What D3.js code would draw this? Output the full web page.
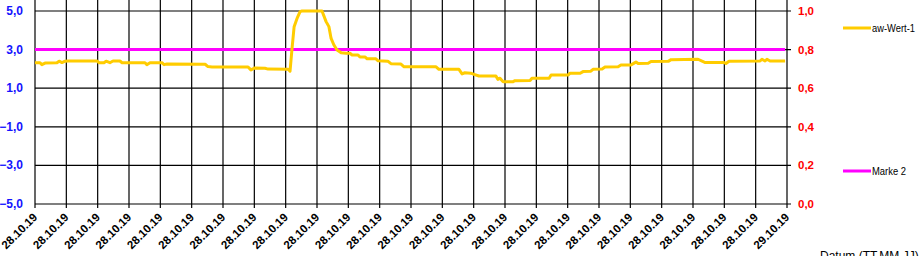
<!DOCTYPE html>
<html>
<head>
<meta charset="utf-8">
<script src="https://cdn.jsdelivr.net/npm/d3@7"></script>
<style>
  body { margin: 0; background: #fff; }
  svg { display: block; font-family: "Liberation Sans", Arial, sans-serif; }
</style>
</head>
<body>
<svg id="chart" width="924" height="256"></svg>
<script>
// hours after 28.10.19 00:00
var hours = [0.00,0.16,0.22,0.32,0.70,0.77,0.86,0.96,1.05,1.98,2.04,2.20,2.27,2.39,2.49,2.71,2.78,3.51,3.57,3.67,
  4.05,4.12,4.21,5.43,5.52,5.65,6.80,6.89,7.02,7.34,7.44,8.08,8.14,8.20,8.27,8.36,8.46,8.52,9.16,9.29,
  9.38,9.45,9.54,9.64,9.77,9.93,10.05,10.12,10.31,10.37,10.53,10.60,10.88,10.95,11.26,11.36,11.68,11.78,12.80,12.89,
  13.53,13.63,13.72,13.91,14.01,14.17,14.71,14.77,14.84,14.94,15.26,15.32,15.80,15.86,16.41,16.47,17.01,17.07,17.40,17.49,
  17.74,17.81,18.10,18.19,18.61,18.70,19.02,19.12,19.18,19.25,19.57,19.66,20.21,20.30,21.16,21.29,21.39,21.99,22.05,22.15,
  23.14,23.20,23.30,23.36,23.46,23.94];
var awWert1 = [2.32,2.32,2.22,2.30,2.32,2.40,2.33,2.40,2.41,2.41,2.32,2.32,2.40,2.32,2.41,2.41,2.32,2.32,2.22,2.32,
  2.32,2.22,2.25,2.24,2.12,2.10,2.10,1.95,2.05,2.03,1.99,1.98,1.88,3.00,4.19,4.60,4.97,5.00,5.00,4.45,
  4.19,3.58,3.24,2.98,2.84,2.81,2.81,2.72,2.72,2.62,2.62,2.52,2.52,2.42,2.40,2.27,2.25,2.11,2.11,1.98,
  1.98,1.74,1.80,1.78,1.72,1.63,1.63,1.46,1.52,1.34,1.34,1.39,1.40,1.51,1.52,1.68,1.68,1.77,1.77,1.86,
  1.88,1.98,2.00,2.10,2.11,2.20,2.20,2.30,2.36,2.28,2.29,2.38,2.39,2.48,2.50,2.40,2.33,2.33,2.28,2.40,
  2.41,2.50,2.41,2.50,2.41,2.41];
var marke2 = 3.0;
var leftTicks = [-5, -3, -1, 1, 3, 5];
var rightTicks = [0, 0.2, 0.4, 0.6, 0.8, 1.0];
var seriesNames = ["aw-Wert-1", "Marke 2"];
var seriesColors = ["#ffcc00", "#ff00ff"];
var xTitle = "Datum (TT.MM.JJ)";

var start = new Date(2019, 9, 28, 0, 0);
var end = new Date(2019, 9, 29, 0, 0);
function toDate(h) { return new Date(start.getTime() + h * 3600000); }

var svg = d3.select("#chart");
var pLeft = 35, pRight = 787, pTop = 11, pBottom = 204;

var x = d3.scaleTime().domain([start, end]).range([pLeft, pRight]);
var y = d3.scaleLinear().domain([-5, 5]).range([pBottom, pTop]);
var y2 = d3.scaleLinear().domain([0, 1]).range([pBottom, pTop]);

var de = d3.formatLocale({decimal: ",", thousands: ".", grouping: [3], currency: ["", "€"]});
var fmt = de.format(".1f");

// vertical grid
var hourTicks = x.ticks(d3.timeHour.every(1));
svg.append("g").selectAll("line")
  .data(hourTicks).enter().append("line")
  .attr("x1", function(d) { return x(d); })
  .attr("x2", function(d) { return x(d); })
  .attr("y1", -2).attr("y2", pBottom + 4)
  .attr("stroke", "#000").attr("stroke-width", 1.2);

// horizontal grid
svg.append("g").selectAll("line")
  .data(leftTicks).enter().append("line")
  .attr("x1", pLeft).attr("x2", pRight + 4)
  .attr("y1", function(d) { return y(d); })
  .attr("y2", function(d) { return y(d); })
  .attr("stroke", "#000").attr("stroke-width", 1.2);

// left axis labels
svg.append("g").selectAll("text")
  .data(leftTicks).enter().append("text")
  .attr("x", 23).attr("y", function(d) { return y(d) + 4; })
  .attr("text-anchor", "end")
  .attr("font-size", 12).attr("font-weight", "bold")
  .attr("fill", "#1414ff")
  .text(function(d) { return fmt(d); });

// right axis labels
svg.append("g").selectAll("text")
  .data(rightTicks).enter().append("text")
  .attr("x", 798).attr("y", function(d) { return y2(d) + 4; })
  .attr("font-size", 11.5).attr("font-weight", "bold")
  .attr("fill", "#ff0000")
  .text(function(d) { return fmt(d); });

// x labels
var dateFmt = d3.timeFormat("%d.%m.%y");
svg.append("g").selectAll("text")
  .data(hourTicks).enter().append("text")
  .attr("transform", function(d) { return "translate(" + (x(d) + 3) + "," + (pBottom + 14) + ") rotate(-45)"; })
  .attr("text-anchor", "end")
  .attr("font-size", 11.5).attr("font-weight", "bold")
  .attr("fill", "#000")
  .text(function(d) { return dateFmt(d); });

// series
var line = d3.line()
  .x(function(d) { return x(toDate(d[0])); })
  .y(function(d) { return y(d[1]); });

var markeData = [[hours[0], marke2], [hours[hours.length - 1], marke2]];
svg.append("path").datum(markeData)
  .attr("d", line).attr("fill", "none")
  .attr("stroke", seriesColors[1]).attr("stroke-width", 3);

svg.append("path").datum(d3.zip(hours, awWert1))
  .attr("d", line).attr("fill", "none")
  .attr("stroke", seriesColors[0]).attr("stroke-width", 3)
  .attr("stroke-linejoin", "round");

// legend
var legendY = [28, 171];
var legendW = [43, 34];
var legend = svg.append("g").selectAll("g")
  .data(seriesNames).enter().append("g")
  .attr("transform", function(d, i) { return "translate(843," + legendY[i] + ")"; });
legend.append("line")
  .attr("x1", 0).attr("x2", 28)
  .attr("stroke", function(d, i) { return seriesColors[i]; })
  .attr("stroke-width", 3);
legend.append("text")
  .attr("x", 29).attr("y", 4)
  .attr("font-size", 11).attr("fill", "#000")
  .attr("textLength", function(d, i) { return legendW[i]; })
  .attr("lengthAdjust", "spacingAndGlyphs")
  .text(function(d) { return d; });

svg.append("text")
  .attr("x", 820).attr("y", 260)
  .attr("font-size", 12).attr("fill", "#000")
  .text(xTitle);
</script>
</body>
</html>
